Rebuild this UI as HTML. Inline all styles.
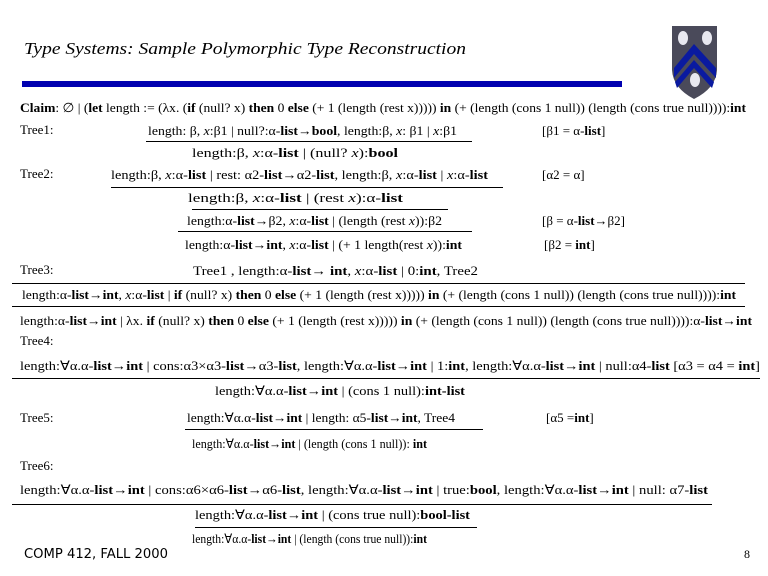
<!DOCTYPE html>
<html><head><meta charset="utf-8"><style>
html,body{margin:0;padding:0;background:#fff}
svg{display:block}
text{font-family:"Liberation Serif",serif;font-size:13px;fill:#000}
.b{font-weight:bold}
.i{font-style:italic}
</style></head><body>
<svg width="768" height="576" viewBox="0 0 768 576" xmlns="http://www.w3.org/2000/svg">
<text x="24" y="54" textLength="442" lengthAdjust="spacingAndGlyphs" style="font-size:17px;font-style:italic">Type Systems: Sample Polymorphic Type Reconstruction</text>
<rect x="22" y="81" width="600" height="6" fill="#0000b0"/>
<path d="M672 26 L717 26 L717 70 Q716 88 694 99 Q673 88 672 70 Z" fill="#4a4a5a"/>
<path d="M674 68 L694 44 L716 68 L716 78 L694 54 L674 78 Z" fill="#0a1aa0"/>
<path d="M675 82 L694 60 L714 82 L712 88 L694 68 L677 88 Z" fill="#0a1aa0"/>
<ellipse cx="683" cy="38" rx="5" ry="7" fill="#e8e8f0"/>
<ellipse cx="707" cy="38" rx="5" ry="7" fill="#e8e8f0"/>
<ellipse cx="695" cy="80" rx="5" ry="7" fill="#e8e8f0"/>
<g>
<text x="20" y="112" textLength="726" lengthAdjust="spacingAndGlyphs"><tspan class="b">Claim</tspan>: ∅ | (<tspan class="b">let</tspan> length := (λx. (<tspan class="b">if</tspan> (null? x) <tspan class="b">then</tspan> 0 <tspan class="b">else</tspan> (+ 1 (length (rest x))))) <tspan class="b">in</tspan> (+ (length (cons 1 null)) (length (cons true null)))):<tspan class="b">int</tspan></text>
<text x="20" y="134">Tree1:</text>
<text x="148" y="135" textLength="309" lengthAdjust="spacingAndGlyphs">length: β, <tspan class="i">x</tspan>:β1 | null?:α-<tspan class="b">list</tspan>→<tspan class="b">bool</tspan>,   length:β, <tspan class="i">x</tspan>: β1 | <tspan class="i">x</tspan>:β1</text>
<text x="542" y="135">[β1 = α-<tspan class="b">list</tspan>]</text>
<rect x="146" y="141" width="326" height="1"/>
<text x="192" y="157" textLength="206" lengthAdjust="spacingAndGlyphs">length:β,  <tspan class="i">x</tspan>:α-<tspan class="b">list</tspan> | (null? <tspan class="i">x</tspan>):<tspan class="b">bool</tspan></text>

<text x="20" y="178">Tree2:</text>
<text x="111" y="179" textLength="377" lengthAdjust="spacingAndGlyphs">length:β, <tspan class="i">x</tspan>:α-<tspan class="b">list</tspan> | rest: α2-<tspan class="b">list</tspan>→α2-<tspan class="b">list</tspan>,  length:β, <tspan class="i">x</tspan>:α-<tspan class="b">list</tspan> | <tspan class="i">x</tspan>:α-<tspan class="b">list</tspan></text>
<text x="542" y="179">[α2 = α]</text>
<rect x="111" y="187" width="392" height="1"/>
<text x="188" y="202" textLength="215" lengthAdjust="spacingAndGlyphs">length:β, <tspan class="i">x</tspan>:α-<tspan class="b">list</tspan> | (rest <tspan class="i">x</tspan>):α-<tspan class="b">list</tspan></text>
<rect x="192" y="209" width="256" height="1"/>
<text x="187" y="225" textLength="255" lengthAdjust="spacingAndGlyphs">length:α-<tspan class="b">list</tspan>→β2, <tspan class="i">x</tspan>:α-<tspan class="b">list</tspan> | (length (rest <tspan class="i">x</tspan>)):β2</text>
<text x="542" y="225">[β =  α-<tspan class="b">list</tspan>→β2]</text>
<rect x="178" y="231" width="294" height="1"/>
<text x="185" y="249" textLength="277" lengthAdjust="spacingAndGlyphs">length:α-<tspan class="b">list</tspan>→<tspan class="b">int</tspan>, <tspan class="i">x</tspan>:α-<tspan class="b">list</tspan> | (+ 1 length(rest <tspan class="i">x</tspan>)):<tspan class="b">int</tspan></text>
<text x="544" y="249">[β2 = <tspan class="b">int</tspan>]</text>

<text x="20" y="274">Tree3:</text>
<text x="193" y="275" textLength="285" lengthAdjust="spacingAndGlyphs">Tree1 ,    length:α-<tspan class="b">list</tspan>→ <tspan class="b">int</tspan>, <tspan class="i">x</tspan>:α-<tspan class="b">list</tspan> | 0:<tspan class="b">int</tspan>,     Tree2</text>
<rect x="12" y="283" width="733" height="1"/>
<text x="22" y="299" textLength="714" lengthAdjust="spacingAndGlyphs">length:α-<tspan class="b">list</tspan>→<tspan class="b">int</tspan>, <tspan class="i">x</tspan>:α-<tspan class="b">list</tspan> | <tspan class="b">if</tspan> (null? x) <tspan class="b">then</tspan> 0 <tspan class="b">else</tspan> (+ 1 (length (rest x))))) <tspan class="b">in</tspan> (+ (length (cons 1 null)) (length (cons true null)))):<tspan class="b">int</tspan></text>
<rect x="12" y="306" width="733" height="1"/>
<text x="20" y="325" textLength="732" lengthAdjust="spacingAndGlyphs">length:α-<tspan class="b">list</tspan>→<tspan class="b">int</tspan> | λx. <tspan class="b">if</tspan> (null? x) <tspan class="b">then</tspan> 0 <tspan class="b">else</tspan> (+ 1 (length (rest x))))) <tspan class="b">in</tspan> (+ (length (cons 1 null)) (length (cons true null)))):α-<tspan class="b">list</tspan>→<tspan class="b">int</tspan></text>

<text x="20" y="345">Tree4:</text>
<text x="20" y="370" textLength="740" lengthAdjust="spacingAndGlyphs">length:∀α.α-<tspan class="b">list</tspan>→<tspan class="b">int</tspan>  | cons:α3×α3-<tspan class="b">list</tspan>→α3-<tspan class="b">list</tspan>, length:∀α.α-<tspan class="b">list</tspan>→<tspan class="b">int</tspan> | 1:<tspan class="b">int</tspan>, length:∀α.α-<tspan class="b">list</tspan>→<tspan class="b">int</tspan> | null:α4-<tspan class="b">list</tspan>  [α3 = α4 = <tspan class="b">int</tspan>]</text>
<rect x="12" y="378" width="748" height="1"/>
<text x="215" y="395" textLength="250" lengthAdjust="spacingAndGlyphs">length:∀α.α-<tspan class="b">list</tspan>→<tspan class="b">int</tspan>  | (cons 1 null):<tspan class="b">int-list</tspan></text>

<text x="20" y="422">Tree5:</text>
<text x="187" y="422" textLength="268" lengthAdjust="spacingAndGlyphs">length:∀α.α-<tspan class="b">list</tspan>→<tspan class="b">int</tspan> | length: α5-<tspan class="b">list</tspan>→<tspan class="b">int</tspan>,   Tree4</text>
<text x="546" y="422">[α5 =<tspan class="b">int</tspan>]</text>
<rect x="185" y="429" width="298" height="1"/>
<text x="192" y="448" textLength="235" lengthAdjust="spacingAndGlyphs">length:∀α.α-<tspan class="b">list</tspan>→<tspan class="b">int</tspan> |  (length (cons 1 null)): <tspan class="b">int</tspan></text>

<text x="20" y="470">Tree6:</text>
<text x="20" y="494" textLength="688" lengthAdjust="spacingAndGlyphs">length:∀α.α-<tspan class="b">list</tspan>→<tspan class="b">int</tspan>  | cons:α6×α6-<tspan class="b">list</tspan>→α6-<tspan class="b">list</tspan>, length:∀α.α-<tspan class="b">list</tspan>→<tspan class="b">int</tspan> | true:<tspan class="b">bool</tspan>,  length:∀α.α-<tspan class="b">list</tspan>→<tspan class="b">int</tspan> | null: α7-<tspan class="b">list</tspan></text>
<rect x="12" y="504" width="700" height="1"/>
<text x="195" y="519" textLength="275" lengthAdjust="spacingAndGlyphs">length:∀α.α-<tspan class="b">list</tspan>→<tspan class="b">int</tspan>  | (cons true null):<tspan class="b">bool-list</tspan></text>
<rect x="195" y="527" width="282" height="1"/>
<text x="192" y="543" textLength="235" lengthAdjust="spacingAndGlyphs">length:∀α.α-<tspan class="b">list</tspan>→<tspan class="b">int</tspan>  | (length (cons true null)):<tspan class="b">int</tspan></text>
</g>
<text x="24" y="558" textLength="144" lengthAdjust="spacingAndGlyphs" style="font-family:'DejaVu Sans','Liberation Sans',sans-serif;font-size:13px">COMP 412, FALL 2000</text>
<text x="744" y="558" style="font-size:12px">8</text>
</svg>
</body></html>
